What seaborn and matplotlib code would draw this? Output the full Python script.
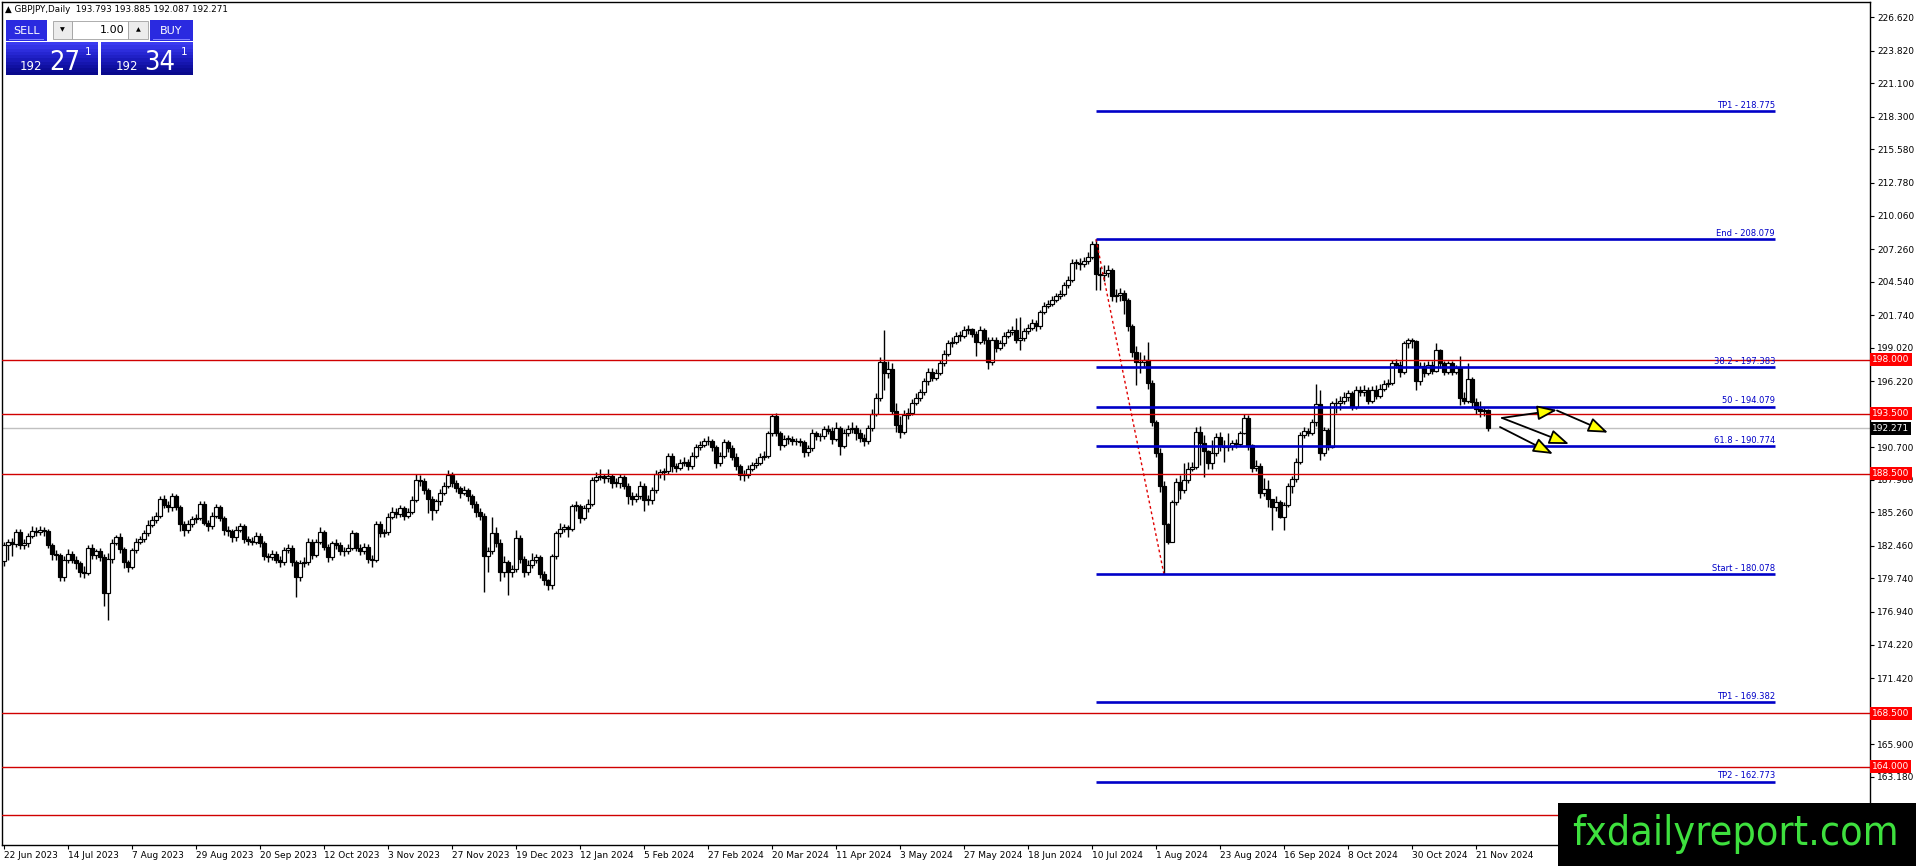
import matplotlib
matplotlib.use("Agg")
import matplotlib.pyplot as plt
from matplotlib.patches import Rectangle, FancyArrowPatch
from matplotlib import font_manager
import matplotlib.transforms as mtransforms
import pandas as pd
import seaborn as sns

# ---- daily GBPJPY candles (22 Jun 2023 .. 26 Nov 2024) ----
first_open = 181.2
closes = [
    182.5, 182.8, 182.6, 183.65, 182.5, 182.7, 183.3, 183.7, 183.6, 183.8,
    183.7, 182.5, 181.8, 181.7, 179.9, 181.3, 181.8, 181.3, 181.0, 180.3,
    180.2, 182.3, 181.7, 182.0, 181.5, 178.5, 181.4, 182.7, 183.2, 182.2,
    181.1, 180.7, 182.1, 182.8, 183.0, 183.5, 184.2, 184.6, 185.0, 186.4,
    185.9, 185.7, 186.6, 185.7, 184.3, 183.8, 184.3, 184.7, 184.8, 186.0,
    184.4, 184.1, 185.0, 185.7, 184.8, 183.8, 183.7, 183.2, 183.8, 184.1,
    183.0, 182.9, 182.8, 183.3, 182.7, 181.6, 181.5, 181.8, 181.3, 181.1,
    182.1, 182.3, 181.1, 179.9, 181.0, 181.1, 182.8, 181.7, 182.8, 183.6,
    182.4, 181.5, 182.7, 182.5, 182.0, 182.0, 182.3, 183.5, 182.3, 182.0,
    182.4, 181.4, 181.3, 184.3, 183.5, 183.6, 184.9, 185.3, 185.1, 185.6,
    185.0, 185.3, 186.3, 188.0, 187.9, 187.1, 186.4, 185.5, 186.2, 186.9,
    187.5, 188.4, 187.7, 187.3, 186.9, 187.1, 186.6, 186.0, 185.3, 185.0,
    181.6, 182.0, 183.5, 182.7, 180.3, 181.1, 180.3, 180.5, 183.1, 181.4,
    180.3, 180.9, 181.3, 181.5, 180.1, 179.6, 179.2, 181.6, 183.5, 183.9,
    184.0, 183.9, 185.8, 185.8, 184.8, 185.6, 186.0, 188.0, 188.2, 188.3,
    188.1, 188.3, 187.7, 187.7, 188.2, 187.5, 186.6, 186.4, 186.6, 187.5,
    186.3, 186.3, 187.1, 188.5, 188.6, 188.7, 190.0, 189.1, 189.0, 189.4,
    189.5, 189.1, 190.0, 190.7, 190.9, 191.2, 191.2, 190.7, 189.4, 190.0,
    191.1, 190.6, 189.9, 189.1, 188.4, 188.4, 188.9, 189.2, 189.4, 189.9,
    190.0, 191.9, 193.3, 191.9, 190.9, 191.4, 191.4, 191.2, 191.2, 191.1,
    190.3, 190.6, 191.9, 191.6, 191.6, 192.2, 192.1, 191.4, 192.3, 190.8,
    191.9, 192.2, 192.3, 191.9, 191.5, 191.2, 192.3, 193.5, 194.8, 197.8,
    196.9, 197.2, 193.7, 192.6, 192.0, 193.4, 193.6, 194.4, 194.8, 195.3,
    196.2, 197.0, 196.5, 196.9, 197.7, 198.5, 199.4, 199.5, 200.0, 200.0,
    200.5, 200.55, 200.2, 199.5, 200.5, 199.7, 197.8, 199.7, 199.0, 199.4,
    200.0, 200.3, 200.5, 199.7, 199.8, 200.4, 200.7, 201.05, 200.8, 202.0,
    202.5, 202.7, 203.0, 203.3, 203.5, 204.25, 204.7, 206.1, 206.1, 206.05,
    206.3, 206.6, 207.7, 205.2, 205.1, 205.3, 205.5, 203.3, 203.4, 203.6,
    203.0, 200.8, 198.7, 197.85, 197.8, 198.0, 196.1, 192.8, 190.25, 187.5,
    184.3, 182.8, 186.15, 187.8, 187.13, 187.97, 188.86, 189.08, 192.0, 191.09,
    190.42, 189.36, 190.19, 191.53, 190.8, 190.75, 190.8, 191.03, 191.0, 191.92,
    193.12, 190.89, 188.94, 189.13, 186.85, 187.19, 186.35, 185.68, 186.16, 184.9,
    185.88, 187.46, 188.02, 189.5, 191.73, 192.06, 191.9, 192.8, 194.3, 190.2,
    192.14, 190.75, 194.37, 194.4, 194.6, 194.9, 195.2, 194.1, 195.5, 195.3,
    195.5, 194.6, 195.5, 195.0, 195.6, 196.0, 196.05, 197.7, 197.6, 197.0,
    199.4, 199.65, 199.55, 196.2, 197.5, 196.9, 197.6, 197.1, 198.8, 197.7,
    197.0, 197.7, 197.0, 197.3, 194.8, 194.6, 196.4, 194.5, 193.9, 193.7,
    193.793, 192.271,
]
highs = [
    182.8, 183.0, 183.1, 183.9, 183.9, 183.0, 183.5, 184.1, 184.0, 184.1,
    184.0, 183.9, 182.7, 182.1, 181.9, 181.6, 182.2, 182.0, 181.6, 181.2,
    180.8, 182.5, 182.6, 182.2, 182.3, 181.8, 181.9, 183.0, 183.4, 183.5,
    182.4, 181.3, 182.3, 183.1, 183.3, 183.8, 184.6, 185.0, 185.3, 186.6,
    186.7, 186.2, 186.9, 186.8, 185.9, 184.5, 184.6, 185.0, 185.1, 186.2,
    186.2, 184.6, 185.3, 186.0, 185.9, 185.0, 184.1, 183.9, 184.1, 184.4,
    184.3, 183.3, 183.2, 183.6, 183.5, 182.9, 181.9, 182.1, 182.0, 181.6,
    182.4, 182.6, 182.5, 181.3, 181.3, 181.5, 183.1, 183.0, 183.0, 184.0,
    183.8, 182.6, 182.9, 183.0, 182.8, 182.4, 182.6, 183.8, 183.6, 182.6,
    182.7, 182.6, 181.7, 184.5, 184.5, 183.9, 185.2, 185.7, 185.6, 185.9,
    185.8, 185.6, 186.6, 188.5, 188.4, 188.1, 187.3, 186.6, 186.4, 187.2,
    187.8, 188.8, 188.6, 188.0, 187.5, 187.5, 187.3, 186.8, 186.2, 185.6,
    185.2, 182.4, 184.9, 184.0, 183.0, 181.6, 181.3, 180.9, 183.8, 183.4,
    181.6, 181.3, 181.9, 181.8, 181.7, 180.4, 179.7, 181.8, 183.7, 184.4,
    184.3, 184.2, 186.0, 186.2, 186.0, 185.9, 186.4, 188.2, 188.6, 188.9,
    188.5, 188.9, 188.5, 188.1, 188.5, 188.4, 187.7, 187.0, 186.9, 187.9,
    187.7, 186.7, 187.4, 188.8, 188.9, 189.0, 190.2, 190.2, 189.4, 189.7,
    189.9, 189.7, 190.3, 191.0, 191.2, 191.5, 191.6, 191.4, 190.9, 190.3,
    191.4, 191.3, 190.9, 190.2, 189.3, 188.8, 189.2, 189.5, 189.8, 190.2,
    190.4, 192.1, 193.5, 193.6, 192.1, 191.7, 191.7, 191.6, 191.5, 191.5,
    191.3, 190.9, 192.2, 192.1, 191.9, 192.5, 192.6, 192.4, 192.8, 192.5,
    192.2, 192.6, 192.8, 192.6, 192.2, 191.8, 192.6, 193.9, 195.2, 198.2,
    200.5, 197.9, 197.7, 194.4, 193.3, 193.8, 194.0, 194.7, 195.2, 195.6,
    196.5, 197.3, 197.3, 197.2, 198.0, 198.8, 199.7, 199.9, 200.3, 200.4,
    200.8, 200.9, 200.7, 200.4, 200.8, 200.7, 199.9, 199.9, 199.9, 199.7,
    200.3, 200.6, 200.8, 201.5, 201.6, 200.7, 201.0, 201.4, 201.3, 202.2,
    202.8, 203.0, 203.3, 203.6, 203.8, 204.5, 205.0, 206.4, 206.4, 206.5,
    206.6, 207.0, 207.9, 208.079, 205.8, 205.9, 205.9, 205.7, 203.9, 204.0,
    203.8, 203.2, 201.0, 199.2, 198.7, 198.4, 199.5, 196.3, 193.0, 190.6,
    187.9, 184.4, 186.3, 188.1, 188.4, 189.4, 189.5, 189.5, 192.4, 192.5,
    191.7, 190.5, 191.3, 191.9, 192.0, 191.3, 191.9, 191.3, 191.4, 192.05,
    193.5, 193.4, 191.0, 189.6, 189.4, 188.1, 188.0, 186.4, 186.6, 186.3,
    186.1, 187.7, 188.3, 189.8, 192.0, 192.4, 192.3, 193.1, 196.0, 195.5,
    192.4, 192.3, 194.6, 194.8, 195.0, 195.3, 195.5, 195.4, 195.8, 195.8,
    195.9, 195.7, 195.8, 195.9, 196.0, 196.3, 196.4, 198.0, 198.1, 197.9,
    199.6, 199.8, 199.85, 199.7, 197.8, 197.8, 197.9, 197.9, 199.4, 198.9,
    197.9, 197.9, 197.9, 197.6, 198.3, 195.3, 197.7, 196.6, 194.8, 194.6,
    194.1, 193.885,
]
lows = [
    180.8, 181.3, 181.6, 182.4, 182.2, 182.2, 182.4, 183.1, 183.3, 183.4,
    183.3, 182.3, 181.3, 181.3, 179.5, 179.5, 181.0, 181.0, 180.5, 179.9,
    179.8, 180.0, 181.4, 181.4, 181.2, 177.4, 176.3, 181.0, 182.5, 181.9,
    180.6, 180.3, 180.5, 181.9, 182.6, 182.8, 183.3, 184.0, 184.4, 184.8,
    185.6, 185.3, 185.4, 185.5, 183.7, 183.3, 183.5, 184.0, 184.4, 184.6,
    184.2, 183.7, 183.9, 184.8, 184.5, 183.4, 183.3, 182.8, 182.9, 183.6,
    182.7, 182.5, 182.5, 182.6, 182.4, 181.3, 181.1, 181.3, 181.0, 180.7,
    180.9, 181.9, 180.8, 178.2, 179.5, 180.7, 180.9, 181.4, 181.5, 182.6,
    182.1, 181.1, 181.3, 182.2, 181.7, 181.6, 181.8, 182.1, 182.0, 181.7,
    181.8, 181.0, 180.7, 181.1, 183.2, 183.2, 183.4, 184.7, 184.8, 184.9,
    184.6, 184.8, 185.1, 186.1, 187.5, 186.8, 185.2, 184.6, 185.2, 185.9,
    186.7, 187.3, 187.4, 187.0, 186.5, 186.7, 186.2, 185.6, 184.9, 184.6,
    178.6, 180.3, 181.8, 182.4, 179.5, 179.9, 178.4, 179.9, 180.3, 181.0,
    179.9, 180.0, 180.6, 181.0, 179.8, 179.2, 178.8, 178.9, 181.4, 183.2,
    183.6, 183.2, 183.7, 185.4, 184.4, 184.6, 185.3, 185.8, 187.8, 188.0,
    187.7, 187.8, 187.3, 187.4, 187.3, 187.2, 186.0, 185.9, 186.1, 186.4,
    185.4, 185.9, 186.0, 186.9, 188.1, 188.0, 188.5, 188.6, 188.6, 188.8,
    189.1, 188.8, 188.9, 189.8, 190.5, 190.7, 190.9, 190.4, 189.0, 189.1,
    189.8, 190.3, 189.6, 188.8, 188.0, 187.9, 188.1, 188.7, 189.0, 189.2,
    189.6, 189.8, 191.6, 191.6, 190.5, 190.7, 191.0, 190.9, 190.9, 190.8,
    189.9, 190.0, 190.4, 191.3, 191.2, 191.4, 191.8, 191.0, 191.2, 190.05,
    190.6, 191.6, 191.9, 191.3, 191.1, 190.8, 191.0, 192.1, 193.3, 194.6,
    195.5, 196.5, 193.5, 192.0, 191.5, 191.8, 193.1, 193.4, 194.2, 194.6,
    195.1, 195.9, 196.2, 196.3, 196.7, 197.5, 198.3, 199.1, 199.3, 199.6,
    199.8, 200.2, 199.9, 198.3, 199.3, 199.3, 197.2, 197.6, 198.7, 198.8,
    199.2, 199.8, 200.1, 199.4, 198.8, 199.6, 200.2, 200.5, 200.4, 200.6,
    201.8, 202.3, 202.5, 202.8, 203.1, 203.3, 204.0, 204.5, 205.6, 205.5,
    205.8, 206.0, 206.4, 203.8, 203.8, 204.6, 204.9, 202.9, 202.8, 202.9,
    201.8, 200.4, 198.2, 195.9, 196.9, 197.4, 195.6, 192.5, 189.9, 187.0,
    180.078, 182.6, 183.0, 185.9, 186.4, 186.9, 187.7, 188.7, 188.9, 189.2,
    188.24, 188.9, 188.9, 190.0, 190.4, 189.5, 190.4, 190.5, 190.6, 190.8,
    191.8, 190.5, 188.6, 188.7, 186.5, 186.6, 185.7, 183.8, 185.4, 184.75,
    183.79, 185.7, 186.9, 187.8, 189.3, 191.5, 191.6, 191.7, 192.5, 189.6,
    190.0, 190.5, 190.6, 193.6, 193.8, 194.3, 194.6, 193.8, 193.9, 195.0,
    195.0, 194.3, 194.4, 194.7, 194.8, 195.4, 195.7, 195.9, 197.3, 196.6,
    196.8, 199.0, 199.0, 195.5, 195.9, 196.6, 196.7, 196.8, 197.0, 197.3,
    196.7, 196.8, 196.7, 196.8, 194.2, 194.3, 194.4, 194.1, 193.5, 193.25,
    193.3, 192.087,
]

# ---- chart objects ----
red_levels = [198.0, 193.5, 188.5, 168.5, 164.0, 160.0]
red_level_labels = [198.0, 193.5, 188.5, 168.5, 164.0]
bid_price = 192.271
fib_names = ["TP1", "End", "38.2", "50", "61.8", "Start", "TP1", "TP2"]
fib_values = [218.775, 208.079, 197.383, 194.079, 190.774, 180.078, 169.382, 162.773]
fib_anchor_bars = [273, 290]
fib_anchor_prices = [208.079, 180.078]
fib_line_end_bar = 442.75
arrow_from_bars = [374.5, 388.25, 374.5, 374.0]
arrow_from_prices = [193.15, 193.77, 193.15, 192.39]
arrow_to_bars = [388.25, 401.0, 391.25, 387.25]
arrow_to_prices = [193.81, 191.92, 190.97, 190.14]
price_ticks = [226.62, 223.82, 221.10, 218.30, 215.58, 212.78, 210.06, 207.26,
               204.54, 201.74, 199.02, 196.22, 190.70, 187.98, 185.26, 182.46,
               179.74, 176.94, 174.22, 171.42, 165.90, 163.18]

sns.set_theme(style="white")
plt.rcParams["font.family"] = ["DejaVu Sans"]

# a narrow face for the big quote digits and the watermark, if one is installed
narrow_fp = None
for f in font_manager.fontManager.ttflist:
    nm = f.name.lower()
    if f.style != "normal" or f.weight not in (400, "normal", "regular", "book"):
        continue
    if "liberation sans narrow" in nm or "arial narrow" in nm:
        narrow_fp = font_manager.FontProperties(fname=f.fname)
        break
    if narrow_fp is None and ("condensed" in nm or str(f.stretch) in ("condensed", "semi-condensed")):
        narrow_fp = font_manager.FontProperties(fname=f.fname)
big_fp = narrow_fp if narrow_fp is not None else \
    font_manager.FontProperties(family=["Liberation Sans", "DejaVu Sans"])

W, H = 1916, 866
fig = plt.figure(figsize=(W / 100, H / 100), dpi=100)
fig.patch.set_facecolor("white")
ax = fig.add_axes([2 / W, 21 / H, 1868 / W, 843 / H])
ax.set_facecolor("white")

n = len(closes)
opens = [first_open] + closes[:-1]
dates = pd.bdate_range("2023-06-22", periods=n + 4)
dates = dates[~dates.isin(pd.to_datetime(["2023-12-25", "2024-01-01"]))][:n]

df = pd.DataFrame({"bar": range(n), "open": opens, "high": highs,
                   "low": lows, "close": closes})
df["high"] = df[["high", "open", "close"]].max(axis=1)
df["low"] = df[["low", "open", "close"]].min(axis=1)
df["bottom"] = df[["open", "close"]].min(axis=1)
df["height"] = (df["close"] - df["open"]).abs().clip(lower=0.06)
df["face"] = ["white" if c >= o else "black" for o, c in zip(df["open"], df["close"])]

# wicks and bodies
ax.vlines(df["bar"], df["low"], df["high"], color="black", linewidth=1.0, zorder=2)
ax.bar(df["bar"], df["height"], bottom=df["bottom"], width=0.78,
       color=df["face"], edgecolor="black", linewidth=0.85, zorder=3)

# horizontal levels
ax.axhline(bid_price, color="#c0c0c0", linewidth=1.0, zorder=1)
for lv in red_levels:
    ax.axhline(lv, color="#d00000", linewidth=1.0, zorder=4)

# fibonacci expansion
sns.lineplot(x=fib_anchor_bars, y=fib_anchor_prices, ax=ax, color="#e00000",
             linewidth=1.0, linestyle=(0, (2, 2)), zorder=4)
ax.hlines(fib_values, fib_anchor_bars[0], fib_line_end_bar, color="#0000c8",
          linewidth=1.9, zorder=5)
for name, v in zip(fib_names, fib_values):
    ax.text(fib_line_end_bar, v + 0.12, f"{name} - {v:.3f}", ha="right", va="bottom",
            fontsize=6, color="#0000c8", zorder=6)

# projection arrows
for x0, y0, x1, y1 in zip(arrow_from_bars, arrow_from_prices, arrow_to_bars, arrow_to_prices):
    ax.add_patch(FancyArrowPatch((x0, y0), (x1, y1),
                                 arrowstyle="-|>,head_length=12,head_width=4.5",
                                 mutation_scale=1, facecolor="#ffff00",
                                 edgecolor="black", linewidth=1.3, zorder=7,
                                 shrinkA=0, shrinkB=0))

ax.set_xlim(-0.5, 466.5)
ax.set_ylim(157.474, 227.898)
ax.set_xlabel("")
ax.set_ylabel("")

# axes look (MetaTrader style)
for sp in ax.spines.values():
    sp.set_color("black")
    sp.set_linewidth(1.0)
    sp.set_visible(True)
ax.yaxis.tick_right()
ax.set_yticks(price_ticks)
ax.set_yticklabels([f"{v:.3f}" for v in price_ticks])
xt = list(range(0, n, 16))
ax.set_xticks(xt)
ax.set_xticklabels([f"{dates[i].day} {dates[i].strftime('%b %Y')}" for i in xt], ha="left")
ax.tick_params(axis="y", which="both", direction="out", length=3, width=0.8,
               labelsize=6.5, colors="black", pad=2, right=True, left=False)
ax.tick_params(axis="x", which="both", direction="out", length=3, width=0.8,
               labelsize=6.5, colors="black", pad=1, bottom=True)
ax.grid(False)

# price labels on the right scale
ytrans = mtransforms.blended_transform_factory(ax.transAxes, ax.transData)
for lv in red_level_labels:
    ax.text(1.0012, lv, f"{lv:.3f}", transform=ytrans, ha="left", va="center",
            fontsize=6.5, color="white", zorder=10, clip_on=False,
            bbox=dict(boxstyle="square,pad=0.22", fc="#ff0000", ec="none"))
ax.text(1.0012, bid_price, f"{bid_price:.3f}", transform=ytrans, ha="left", va="center",
        fontsize=6.5, color="white", zorder=10, clip_on=False,
        bbox=dict(boxstyle="square,pad=0.22", fc="black", ec="none"))

# ---- header and one-click trading panel ----
def frect(x0, y0, x1, y1, **kw):
    fig.add_artist(Rectangle((x0 / W, 1 - y1 / H), (x1 - x0) / W, (y1 - y0) / H,
                             transform=fig.transFigure, **kw))

def ftext(x, y, s, **kw):
    return fig.text(x / W, 1 - y / H, s, **kw)

def fit_width(txt, width_px):
    # scale a text so it spans the wanted pixel width
    fig.canvas.draw()
    bb = txt.get_window_extent()
    txt.set_fontsize(txt.get_fontsize() * width_px / bb.width)

ftext(5, 9, "\u25b2 GBPJPY,Daily  193.793 193.885 192.087 192.271",
      fontsize=6.3, color="black", va="center", ha="left")

blues = ["#3b3bf0", "#3434e6", "#2d2ddc", "#2626d2", "#2020c6", "#1a1aba",
         "#1515ae", "#1010a2", "#0c0c96", "#09098c"]
for (bx0, bx1) in [(6, 98), (101, 193)]:
    for k, col in enumerate(blues):
        y0 = 42 + k * 3.3
        frect(bx0, y0, bx1, y0 + 3.4, fc=col, ec="none")
frect(6, 20, 47, 41, fc="#2a2ae0", ec="none")
frect(150, 20, 193, 41, fc="#2a2ae0", ec="none")
frect(9, 39, 44, 40, fc="#8080ff", ec="none")
frect(153, 39, 190, 40, fc="#8080ff", ec="none")
frect(53, 21, 72, 39, fc="#ececec", ec="#a0a0a0", lw=0.6)
frect(72, 21, 128, 39, fc="white", ec="#a0a0a0", lw=0.6)
frect(128, 21, 148, 39, fc="#ececec", ec="#a0a0a0", lw=0.6)
ftext(62.5, 30, "\u25bc", fontsize=4.5, ha="center", va="center", color="black")
ftext(138, 30, "\u25b2", fontsize=4.5, ha="center", va="center", color="black")
ftext(124, 30, "1.00", fontsize=8, ha="right", va="center", color="black")
ftext(26.5, 31, "SELL", fontsize=8, ha="center", va="center", color="white")
ftext(171.5, 31, "BUY", fontsize=8, ha="center", va="center", color="white")
ftext(20, 70, "192", fontsize=8.5, ha="left", va="baseline", color="white")
sell_big = ftext(49, 70, "27", fontproperties=big_fp, fontsize=22, ha="left",
                 va="baseline", color="white")
ftext(85, 55, "1", fontsize=7.5, ha="left", va="baseline", color="white")
ftext(116, 70, "192", fontsize=8.5, ha="left", va="baseline", color="white")
buy_big = ftext(144, 70, "34", fontproperties=big_fp, fontsize=22, ha="left",
                va="baseline", color="white")
ftext(181, 55, "1", fontsize=7.5, ha="left", va="baseline", color="white")

# watermark box
frect(1558, 803, 1916, 866, fc="black", ec="none", zorder=20)
logo = ftext(1735, 845, "fxdailyreport.com", fontproperties=big_fp, fontsize=30,
             color="#3ee03e", ha="center", va="baseline", zorder=21)

fit_width(sell_big, 31)
fit_width(buy_big, 31)
fit_width(logo, 326)

fig.savefig("out.png", dpi=100, facecolor="white")
